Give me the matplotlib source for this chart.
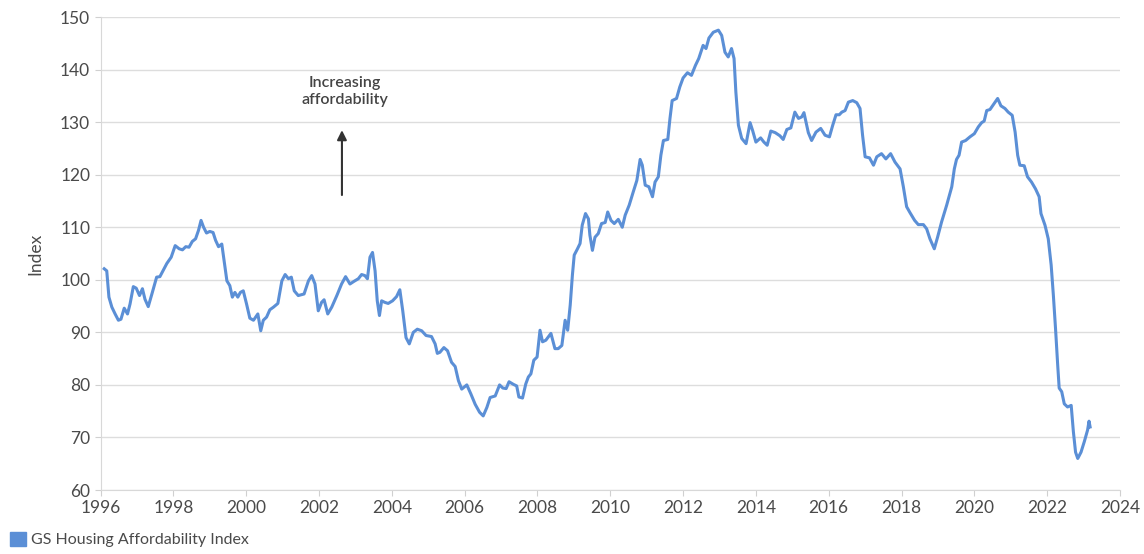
import matplotlib.pyplot as plt
from matplotlib.patches import Patch

# GS Housing Affordability Index (decimal years)
years = [
    1996.10, 1996.17, 1996.23, 1996.31, 1996.40, 1996.49, 1996.56, 1996.65, 1996.74, 1996.81,
    1996.90, 1996.98, 1997.07, 1997.15, 1997.22, 1997.31, 1997.41, 1997.54, 1997.63, 1997.73,
    1997.82, 1997.94, 1998.05, 1998.16, 1998.25, 1998.34, 1998.43, 1998.52, 1998.61, 1998.69,
    1998.76, 1998.83, 1998.91, 1999.00, 1999.09, 1999.16, 1999.24, 1999.33, 1999.40, 1999.47,
    1999.55, 1999.62, 1999.69, 1999.77, 1999.84, 1999.92, 2000.01, 2000.10, 2000.20, 2000.32,
    2000.40, 2000.47, 2000.56, 2000.65, 2000.75, 2000.87, 2000.98, 2001.07, 2001.16, 2001.24,
    2001.32, 2001.43, 2001.59, 2001.71, 2001.80, 2001.89, 2001.98, 2002.07, 2002.14, 2002.24,
    2002.35, 2002.49, 2002.62, 2002.73, 2002.85, 2002.96, 2003.08, 2003.17, 2003.26, 2003.33,
    2003.40, 2003.47, 2003.54, 2003.60, 2003.66, 2003.72, 2003.81, 2003.90, 2004.02, 2004.13,
    2004.22, 2004.30, 2004.39, 2004.48, 2004.59, 2004.70, 2004.82, 2004.94, 2005.09, 2005.19,
    2005.25, 2005.32, 2005.43, 2005.53, 2005.64, 2005.74, 2005.83, 2005.92, 2006.06, 2006.17,
    2006.29, 2006.41, 2006.51, 2006.61, 2006.70, 2006.84, 2006.96, 2007.05, 2007.14, 2007.22,
    2007.34, 2007.43, 2007.49, 2007.59, 2007.68, 2007.75, 2007.82, 2007.90, 2007.99, 2008.07,
    2008.14, 2008.23, 2008.37, 2008.48, 2008.57, 2008.67, 2008.76, 2008.83, 2008.90, 2008.96,
    2009.01, 2009.10, 2009.17, 2009.23, 2009.32, 2009.40, 2009.44, 2009.51, 2009.58, 2009.67,
    2009.76, 2009.86, 2009.93, 2010.02, 2010.11, 2010.22, 2010.33, 2010.41, 2010.52, 2010.63,
    2010.73, 2010.82, 2010.88, 2010.96, 2011.06, 2011.16, 2011.23, 2011.32, 2011.39, 2011.46,
    2011.58, 2011.64, 2011.70, 2011.82, 2011.91, 2012.00, 2012.12, 2012.23, 2012.34, 2012.43,
    2012.55, 2012.63, 2012.71, 2012.83, 2012.97, 2013.06, 2013.15, 2013.24, 2013.33, 2013.40,
    2013.45, 2013.52, 2013.61, 2013.73, 2013.84, 2013.91, 2014.00, 2014.13, 2014.22, 2014.31,
    2014.41, 2014.53, 2014.66, 2014.75, 2014.85, 2014.96, 2015.07, 2015.17, 2015.26, 2015.32,
    2015.44, 2015.53, 2015.65, 2015.78, 2015.90, 2016.02, 2016.11, 2016.20, 2016.29, 2016.36,
    2016.45, 2016.54, 2016.66, 2016.77, 2016.86, 2016.93, 2017.00, 2017.12, 2017.23, 2017.32,
    2017.45, 2017.57, 2017.70, 2017.82, 2017.96, 2018.05, 2018.14, 2018.23, 2018.36, 2018.46,
    2018.60, 2018.69, 2018.78, 2018.90, 2018.99, 2019.10, 2019.24, 2019.38, 2019.45, 2019.51,
    2019.58, 2019.65, 2019.76, 2019.88, 2020.00, 2020.11, 2020.20, 2020.27, 2020.34, 2020.43,
    2020.52, 2020.64, 2020.73, 2020.84, 2020.93, 2021.04, 2021.12, 2021.19, 2021.25, 2021.37,
    2021.46, 2021.57, 2021.68, 2021.78, 2021.83, 2021.94, 2022.03, 2022.11, 2022.17, 2022.23,
    2022.29, 2022.33, 2022.40, 2022.47, 2022.56, 2022.66, 2022.72, 2022.78, 2022.84, 2022.93,
    2023.02, 2023.11, 2023.15, 2023.18,
]
index_values = [
    102.1, 101.7, 96.7, 94.8, 93.5, 92.3, 92.5, 94.6, 93.5, 95.4,
    98.7, 98.4, 97.0, 98.3, 96.3, 94.9, 97.3, 100.5, 100.6, 101.9,
    103.1, 104.3, 106.5, 105.9, 105.7, 106.3, 106.2, 107.3, 107.8, 109.4,
    111.3, 110.0, 108.9, 109.2, 109.0, 107.5, 106.3, 106.8, 103.3, 99.8,
    98.9, 96.7, 97.6, 96.7, 97.6, 97.9, 95.4, 92.7, 92.3, 93.5,
    90.3, 92.3, 92.9, 94.3, 94.8, 95.5, 99.8, 101.0, 100.2, 100.5,
    97.9, 97.0, 97.3, 99.8, 100.8, 99.2, 94.1, 95.7, 96.2, 93.5,
    94.8, 97.0, 99.2, 100.6, 99.2, 99.7, 100.2, 101.0, 100.8, 100.2,
    104.3, 105.2, 101.7, 96.0, 93.2, 96.0, 95.7, 95.5, 96.0, 96.8,
    98.1, 94.1, 89.0, 87.8, 90.0, 90.6, 90.3, 89.4, 89.2, 87.8,
    86.0, 86.2, 87.1, 86.5, 84.3, 83.5, 80.8, 79.2, 80.0, 78.3,
    76.3, 74.8, 74.1, 75.7, 77.6, 77.9, 80.0, 79.4, 79.3, 80.6,
    80.1, 79.8, 77.7, 77.5, 80.2, 81.5, 82.1, 84.7, 85.3, 90.4,
    88.2, 88.5, 89.8, 86.9, 86.9, 87.5, 92.3, 90.4, 95.2, 100.9,
    104.7, 105.9, 106.9, 110.4, 112.6, 111.6, 108.5, 105.6, 108.1, 108.8,
    110.7, 110.9, 112.9, 111.3, 110.7, 111.5, 110.0, 112.3, 114.2, 116.7,
    118.9, 122.9, 121.8, 118.0, 117.7, 115.8, 118.6, 119.6, 123.7, 126.5,
    126.7, 130.7, 134.1, 134.5, 136.7, 138.4, 139.4, 138.9, 140.8, 142.1,
    144.6, 144.0, 146.0, 147.1, 147.5, 146.5, 143.3, 142.4, 144.0, 142.1,
    135.7, 129.4, 126.9, 125.9, 129.9, 128.4, 126.2, 127.0, 126.2, 125.6,
    128.3, 128.0, 127.4, 126.7, 128.6, 128.9, 131.9, 130.7, 131.0, 131.8,
    128.0, 126.5, 128.1, 128.8, 127.5, 127.2, 129.4, 131.4, 131.4, 131.9,
    132.2, 133.8, 134.1, 133.7, 132.6, 127.5, 123.4, 123.2, 121.8, 123.4,
    124.0, 123.0, 124.0, 122.4, 121.1, 117.7, 113.9, 112.8, 111.3, 110.5,
    110.5, 109.7, 107.8, 105.9, 108.1, 111.0, 114.2, 117.7, 121.1, 122.9,
    123.7, 126.2, 126.5, 127.2, 127.8, 129.1, 129.9, 130.2, 132.2, 132.4,
    133.3, 134.5, 133.1, 132.6, 131.9, 131.3, 128.1, 123.7, 121.8, 121.7,
    119.6, 118.6, 117.3, 115.8, 112.6, 110.4, 107.8, 102.8, 97.1, 90.7,
    83.7, 79.4, 78.7, 76.4, 75.8, 76.1, 71.1, 67.2, 66.0, 67.2,
    69.2, 71.4, 73.1, 72.0,
]

x_ticks = list(range(1996, 2025, 2))
y_ticks = list(range(60, 151, 10))
series_name = "GS Housing Affordability Index"
line_color = "#5b8fd6"
text_color = "#4a4a4a"

plt.rcParams['font.family'] = ['Lato', 'DejaVu Sans']

fig = plt.figure(figsize=(11.44, 5.54), dpi=100)
ax = fig.add_axes([0.0879, 0.1155, 0.8911, 0.8538])

ax.plot(years, index_values, color=line_color, linewidth=2.2, solid_joinstyle='round')

ax.set_xlim(1996, 2024)
ax.set_ylim(60, 150)
ax.set_xticks(x_ticks)
ax.set_yticks(y_ticks)
ax.tick_params(axis='both', labelsize=12.5, colors='#d0d0d0', labelcolor=text_color, length=4)
ax.yaxis.grid(True, color='#dddddd', linewidth=1)
ax.xaxis.grid(False)
ax.set_axisbelow(True)
for side in ['top', 'right']:
    ax.spines[side].set_visible(False)
for side in ['left', 'bottom']:
    ax.spines[side].set_color('#d8d8d8')
ax.set_ylabel("Index", fontsize=12.5, color=text_color, labelpad=12)

ax.annotate("", xy=(2002.63, 129.0), xytext=(2002.63, 115.6),
            arrowprops=dict(arrowstyle='-|>', color='#333333', lw=1.5, mutation_scale=14))
ax.text(2002.7, 135.8, "Increasing\naffordability", ha='center', va='center',
        fontsize=11.5, fontweight='semibold', color='#444444', linespacing=1.25)

fig.legend(handles=[Patch(facecolor=line_color, edgecolor=line_color)], labels=[series_name],
           loc='lower left', bbox_to_anchor=(-0.004, -0.014), frameon=False, fontsize=11.5,
           handlelength=1.0, handleheight=1.0, handletextpad=0.3, labelcolor=text_color)

fig.savefig("out.png", dpi=100)
